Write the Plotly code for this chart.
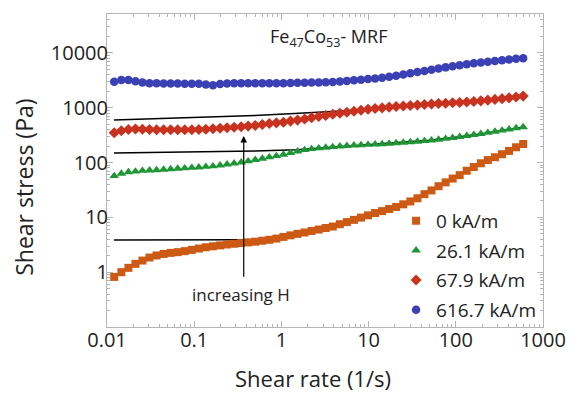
import plotly.graph_objects as go

# Shear rate (1/s)
shear_rate = [0.0121, 0.0146, 0.0176, 0.0212, 0.0255, 0.0307, 0.0370, 0.0446, 0.0537, 0.0647,
              0.0779, 0.0939, 0.113, 0.136, 0.164, 0.198, 0.238, 0.287, 0.346, 0.416,
              0.501, 0.604, 0.727, 0.876, 1.055, 1.271, 1.531, 1.845, 2.22, 2.68,
              3.22, 3.88, 4.68, 5.63, 6.79, 8.18, 9.85, 11.87, 14.29, 17.22,
              20.7, 25.0, 30.1, 36.3, 43.7, 52.6, 63.4, 76.4, 92.0, 110.8,
              133.5, 160.8, 193.7, 233, 281, 339, 408, 491, 592]

stress_0 = [0.82, 1.0, 1.2, 1.42, 1.63, 1.85, 2.02, 2.15, 2.25, 2.32,
            2.42, 2.55, 2.7, 2.85, 2.97, 3.08, 3.2, 3.3, 3.4, 3.5,
            3.6, 3.75, 3.9, 4.1, 4.4, 4.7, 5.0, 5.3, 5.65, 6.0,
            6.4, 6.8, 7.5, 8.2, 9.0, 9.9, 10.9, 12.0, 13.0, 14.2,
            15.5, 17.3, 19.5, 22.3, 26.5, 31, 37, 43.5, 51, 59,
            71, 83, 97, 111, 125, 142, 163, 190, 218]

stress_26 = [57, 63, 67, 69, 71, 72, 73, 74.5, 76, 77.5,
             79, 80.5, 82, 84, 86, 89, 93, 97, 101, 106,
             112, 118, 125, 132, 140, 150, 160, 170, 177, 183,
             188, 193, 198, 202, 206, 209, 212, 215, 218, 222,
             227, 232, 237, 242, 248, 255, 263, 272, 282, 295,
             307, 320, 335, 350, 368, 385, 405, 425, 445]

stress_68 = [350, 380, 402, 408, 404, 400, 398, 398, 396, 396,
             396, 398, 400, 404, 415, 424, 432, 442, 451, 462,
             476, 495, 515, 530, 545, 570, 595, 625, 660, 690,
             725, 760, 795, 830, 865, 900, 935, 965, 995, 1025,
             1050, 1075, 1100, 1125, 1150, 1170, 1190, 1210, 1230, 1245,
             1270, 1300, 1335, 1375, 1420, 1465, 1515, 1570, 1630]

stress_617 = [2990, 3200, 3200, 3050, 2880, 2800, 2790, 2780, 2770, 2760,
              2750, 2740, 2730, 2650, 2570, 2700, 2760, 2790, 2790, 2790,
              2790, 2790, 2790, 2800, 2800, 2820, 2850, 2870, 2880, 2890,
              2920, 2960, 3010, 3090, 3170, 3250, 3330, 3420, 3520, 3660,
              3850, 4050, 4250, 4470, 4700, 4950, 5200, 5450, 5700, 5950,
              6200, 6450, 6700, 6900, 7100, 7350, 7600, 7800, 8000]

# Black guide / fit lines
line1_x = [0.012, 0.37]
line1_y = [3.85, 3.9]
line2_x = [0.012, 0.1, 0.5, 1.5, 5, 10, 20, 50, 100, 200, 590]
line2_y = [150, 155, 162, 172, 195, 210, 226, 254, 290, 335, 440]
line3_x = [0.012, 0.5, 1.6, 5, 10, 20, 50, 100, 200, 590]
line3_y = [600, 720, 790, 870, 930, 1050, 1170, 1245, 1340, 1630]

x_ticks = [0.01, 0.1, 1, 10, 100, 1000]
x_ticktext = ["0.01", "0.1", "1", "10", "100", "1000"]
y_ticks = [1, 10, 100, 1000, 10000]
y_ticktext = ["1", "10", "100", "1000", "10000"]

labels = ["0 kA/m", "26.1 kA/m", "67.9 kA/m", "616.7 kA/m"]
colors = ["#cc5a14", "#1f9636", "#c8321e", "#3b40b4"]
symbols = ["square", "triangle-up", "diamond", "circle"]
sizes = [8, 8.5, 8.5, 8.5]
series = [stress_0, stress_26, stress_68, stress_617]

FONT = "Open Sans"
TXT = "#222222"
fig = go.Figure()

for lx, ly in [(line1_x, line1_y), (line2_x, line2_y), (line3_x, line3_y)]:
    fig.add_trace(go.Scatter(x=lx, y=ly, mode="lines", line=dict(color="black", width=1.5),
                             showlegend=False, hoverinfo="skip"))

for i, (lab, ys) in enumerate(zip(labels, series)):
    fig.add_trace(go.Scatter(x=shear_rate, y=ys, mode="markers", name=lab, legendgroup=lab,
                             marker=dict(symbol=symbols[i], color=colors[i], size=sizes[i],
                                         line=dict(width=0))))

axis_common = dict(
    type="log", showgrid=False, zeroline=False,
    showline=True, linecolor="#b5b5b5", linewidth=1, mirror="allticks",
    ticks="inside", ticklen=6, tickcolor="#b5b5b5", tickwidth=1,
    tickmode="array",
    minor=dict(ticks="inside", ticklen=3, tickcolor="#b5b5b5", dtick="D1", showgrid=False),
    tickfont=dict(family=FONT, size=20, color=TXT),
)

fig.update_xaxes(range=[-2, 3], tickvals=x_ticks, ticktext=x_ticktext,
                 ticklabelstandoff=-5, **axis_common)
fig.update_yaxes(range=[-1.0, 4.71], tickvals=y_ticks, ticktext=y_ticktext,
                 ticklabelstandoff=-6, **axis_common)

fig.add_annotation(x=-0.432, y=2.484, ax=-0.432, ay=-0.11, xref="x", yref="y",
                   axref="x", ayref="y", text="", showarrow=True, arrowhead=2,
                   arrowsize=1.1, arrowwidth=1.2, arrowcolor="black", standoff=0)
fig.add_annotation(x=-0.462, y=-0.40, xref="x", yref="y", text="increasing H",
                   showarrow=False, font=dict(family=FONT, size=17, color=TXT))
fig.add_annotation(x=0.37, y=0.926, xref="paper", yref="paper", xanchor="left", yanchor="middle",
                   text="Fe<sub>47</sub>Co<sub>53</sub>- MRF", showarrow=False,
                   font=dict(family=FONT, size=18, color=TXT))
fig.add_annotation(x=0.4715, y=-0.163, xref="paper", yref="paper", xanchor="center",
                   yanchor="middle", text="Shear rate (1/s)",
                   showarrow=False, font=dict(family=FONT, size=22, color=TXT))
fig.add_annotation(x=-0.191, y=0.447, xref="paper", yref="paper", xanchor="center",
                   yanchor="middle", text="Shear stress (Pa)",
                   textangle=-90, showarrow=False, font=dict(family=FONT, size=23, color=TXT))

fig.update_layout(
    width=578, height=395,
    margin=dict(l=107, r=32, t=14, b=68),
    paper_bgcolor="white", plot_bgcolor="white",
    legend=dict(x=0.663, y=0.40, xanchor="left", yanchor="top", bgcolor="rgba(0,0,0,0)",
                font=dict(family=FONT, size=19, color=TXT), tracegroupgap=2,
                itemsizing="trace"),
    showlegend=True,
)

fig.write_html("out.html")
